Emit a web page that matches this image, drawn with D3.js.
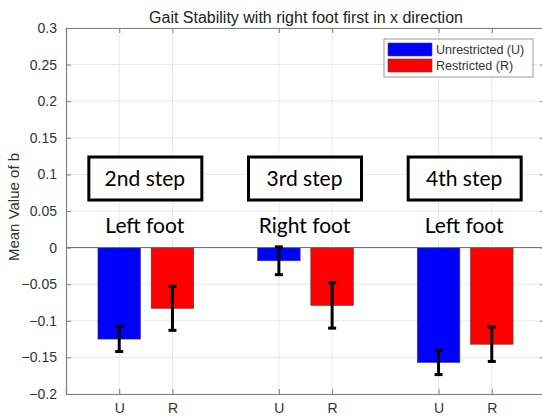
<!DOCTYPE html>
<html>
<head>
<meta charset="utf-8">
<script src="https://cdn.jsdelivr.net/npm/d3@7"></script>
<style>
  html, body { margin: 0; padding: 0; background: #fff; }
  svg { display: block; }
</style>
</head>
<body>
<svg id="chart" width="542" height="416"></svg>
<script>
// Bar positions along x (MATLAB-style numeric x axis)
const positions = [1, 2, 4, 5, 7, 8];
const tickLabels = ["U", "R", "U", "R", "U", "R"];
const conditions = ["U", "R", "U", "R", "U", "R"];
// Mean value of b per bar and its error (half-length of the error bar)
const means = [-0.125, -0.083, -0.018, -0.079, -0.157, -0.132];
const errors = [0.017, 0.030, 0.019, 0.031, 0.0165, 0.0235];
// Step annotations (centre x in data units)
const stepLabels = ["2nd step", "3rd step", "4th step"];
const footLabels = ["Left foot", "Right foot", "Left foot"];
const groupCentres = [1.5, 4.5, 7.5];
const yTicks = [0.3, 0.25, 0.2, 0.15, 0.1, 0.05, 0, -0.05, -0.1, -0.15, -0.2];
const legendLabels = ["Unrestricted (U)", "Restricted (R)"];
const colours = { U: "#0000ff", R: "#ff0000" };

const svg = d3.select("#chart");
const plotL = 66, plotR = 545, plotT = 28, plotB = 394;

const x = d3.scaleLinear().domain([0, 9]).range([plotL, plotR]);
const y = d3.scaleLinear().domain([-0.2, 0.3]).range([plotB, plotT]);

const axisColour = "#808080";
const textColour = "#333";
const tickFont = "Liberation Sans, Arial, Helvetica, sans-serif";

// grid
const grid = svg.append("g");
grid.selectAll("line.gy").data(yTicks).enter().append("line")
  .attr("x1", plotL).attr("x2", plotR)
  .attr("y1", d => y(d)).attr("y2", d => y(d))
  .attr("stroke", "#e8e8e8").attr("stroke-width", 1);
grid.selectAll("line.gx").data(positions).enter().append("line")
  .attr("y1", plotT).attr("y2", plotB)
  .attr("x1", d => x(d)).attr("x2", d => x(d))
  .attr("stroke", "#e8e8e8").attr("stroke-width", 1);

// bars
const barW = x(0.8) - x(0);
svg.append("g").selectAll("rect").data(means).enter().append("rect")
  .attr("x", (d, i) => x(positions[i]) - barW / 2)
  .attr("width", barW)
  .attr("y", d => y(Math.max(0, d)))
  .attr("height", d => Math.abs(y(d) - y(0)))
  .attr("fill", (d, i) => colours[conditions[i]])
  .attr("stroke", "#444").attr("stroke-width", 0.6);

// zero baseline
svg.append("line")
  .attr("x1", plotL).attr("x2", plotR)
  .attr("y1", y(0)).attr("y2", y(0))
  .attr("stroke", "#6a6a6a").attr("stroke-width", 1);

// error bars
const eb = svg.append("g").attr("stroke", "#000").attr("stroke-width", 3);
means.forEach((m, i) => {
  const cx = x(positions[i]);
  const y1 = y(m + errors[i]), y2 = y(m - errors[i]);
  eb.append("line").attr("x1", cx).attr("x2", cx).attr("y1", y1).attr("y2", y2);
  eb.append("line").attr("x1", cx - 4).attr("x2", cx + 4).attr("y1", y1).attr("y2", y1);
  eb.append("line").attr("x1", cx - 4).attr("x2", cx + 4).attr("y1", y2).attr("y2", y2);
});

// axes
const yAxis = d3.axisLeft(y).tickValues(yTicks).tickSize(-5).tickPadding(9)
  .tickFormat(d => d3.format("")(+d.toFixed(2)));
const gy = svg.append("g").attr("transform", `translate(${plotL},0)`).call(yAxis);
const yAxisR = d3.axisRight(y).tickValues(yTicks).tickSize(-5).tickFormat("");
const gyr = svg.append("g").attr("transform", `translate(${plotR},0)`).call(yAxisR);
const xAxis = d3.axisBottom(x).tickValues(positions).tickSize(-5).tickPadding(9)
  .tickFormat((d, i) => tickLabels[i]);
const gx = svg.append("g").attr("transform", `translate(0,${plotB})`).call(xAxis);
const xAxisT = d3.axisTop(x).tickValues(positions).tickSize(-5).tickFormat("");
const gxt = svg.append("g").attr("transform", `translate(0,${plotT})`).call(xAxisT);

[gy, gyr, gx, gxt].forEach(g => {
  g.select(".domain").attr("stroke", axisColour).attr("stroke-width", 1.2);
  g.selectAll(".tick line").attr("stroke", axisColour);
  g.selectAll("text").attr("fill", textColour)
    .style("font-family", tickFont).style("font-size", "14px");
});

// title
svg.append("text")
  .attr("x", 306).attr("y", 23)
  .attr("text-anchor", "middle")
  .style("font-family", tickFont).style("font-size", "16px")
  .attr("fill", "#222")
  .text("Gait Stability with right foot first in x direction");

// y label
svg.append("text")
  .attr("transform", `translate(19,${(plotT + plotB) / 2 - 4}) rotate(-90)`)
  .attr("text-anchor", "middle")
  .style("font-family", tickFont).style("font-size", "15px")
  .attr("fill", textColour)
  .text("Mean Value of b");

// step annotation boxes
const annFont = "Lato, 'Open Sans', sans-serif";
stepLabels.forEach((s, i) => {
  const cx = x(groupCentres[i]) - 1;
  svg.append("rect")
    .attr("x", cx - 56).attr("y", 157)
    .attr("width", 113).attr("height", 43)
    .attr("fill", "#fff").attr("stroke", "#000").attr("stroke-width", 3);
  svg.append("text")
    .attr("x", cx).attr("y", 186)
    .attr("text-anchor", "middle")
    .style("font-family", annFont).style("font-size", "21px")
    .attr("fill", "#000")
    .text(s);
  svg.append("text")
    .attr("x", cx).attr("y", 233)
    .attr("text-anchor", "middle")
    .style("font-family", annFont).style("font-size", "21px")
    .attr("fill", "#000")
    .text(footLabels[i]);
});

// legend
const lg = svg.append("g");
lg.append("rect").attr("x", 384).attr("y", 39).attr("width", 149).attr("height", 38)
  .attr("fill", "#fff").attr("stroke", "#999").attr("stroke-width", 1);
legendLabels.forEach((l, i) => {
  const key = i === 0 ? "U" : "R";
  lg.append("rect").attr("x", 388).attr("y", 43 + i * 16).attr("width", 44).attr("height", 13)
    .attr("fill", colours[key]).attr("stroke", "#444").attr("stroke-width", 0.6);
  lg.append("text").attr("x", 436).attr("y", 54 + i * 16)
    .style("font-family", tickFont).style("font-size", "12.5px")
    .attr("fill", textColour).text(l);
});
</script>
</body>
</html>
